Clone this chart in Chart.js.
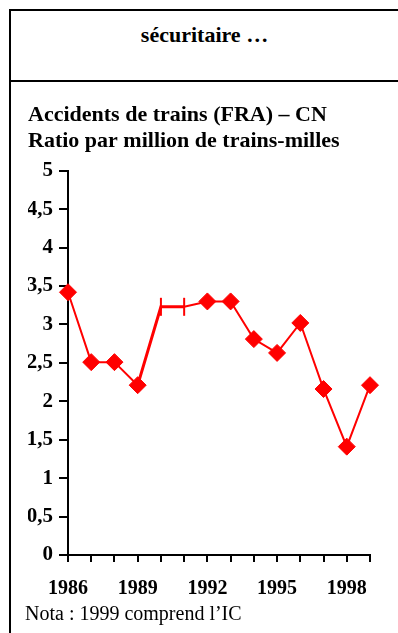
<!DOCTYPE html>
<html>
<head>
<meta charset="utf-8">
<script src="https://cdn.jsdelivr.net/npm/chart.js@4/dist/chart.umd.min.js"></script>
<style>
  html, body { margin: 0; padding: 0; background: #fff; }
  body { width: 398px; height: 633px; position: relative; overflow: hidden; font-family: 'Liberation Serif', 'Times New Roman', serif; }
  .frame { position: absolute; left: 9px; top: 9px; width: 400px; height: 640px; border-left: 2px solid #000; border-top: 2px solid #000; }
  .sep { position: absolute; left: 9px; top: 80px; width: 400px; border-top: 2px solid #000; }
  .header { position: absolute; left: 11px; right: 0; top: 22px; text-align: center; font-weight: bold; font-size: 22px; line-height: 26px; }
  .note { position: absolute; left: 25px; top: 601px; font-size: 20px; line-height: 24px; }
  .wrap { position: absolute; left: 12px; top: 84px; width: 386px; height: 526px; }
</style>
</head>
<body>
<div class="frame"></div>
<div class="sep"></div>
<div class="header">sécuritaire …</div>
<div class="wrap"><canvas id="chart"></canvas></div>
<div class="note">Nota : 1999 comprend l’IC</div>
<script>
const years = ['1986', '1987', '1988', '1989', '1990', '1991', '1992', '1993', '1994', '1995', '1996', '1997', '1998', '1999'];
const ratio = [3.42, 2.51, 2.51, 2.21, 3.23, 3.23, 3.30, 3.30, 2.81, 2.63, 3.02, 2.16, 1.41, 2.21];
const dashYears = ['1990', '1991'];

const serif = "'Liberation Serif', 'Times New Roman', serif";
const red = '#ff0000';

// 1990 et 1991 : petit trait vertical au lieu du losange
const isDash = ctx => dashYears.includes(years[ctx.dataIndex]);

new Chart(document.getElementById('chart'), {
    type: 'line',
    data: {
        labels: years,
        datasets: [{
            data: ratio,
            borderColor: red,
            backgroundColor: red,
            borderWidth: 2,
            tension: 0,
            clip: false,
            pointStyle: ctx => isDash(ctx) ? 'line' : 'rectRot',
            pointRotation: ctx => isDash(ctx) ? 90 : 0,
            pointRadius: ctx => isDash(ctx) ? 9 : 8.5,
            pointBorderWidth: ctx => isDash(ctx) ? 2 : 1,
            pointBorderColor: red,
            pointBackgroundColor: red,
            segment: {
                borderWidth: ctx => (ctx.p0DataIndex === 3 || ctx.p0DataIndex === 4) ? 3 : 2
            }
        }]
    },
    options: {
        responsive: true,
        maintainAspectRatio: false,
        animation: false,
        layout: { padding: { left: 16, right: 28, top: 0, bottom: 0 } },
        plugins: {
            legend: { display: false },
            tooltip: { enabled: false },
            title: {
                display: true,
                text: 'Accidents de trains (FRA) – CN',
                align: 'start',
                color: '#000',
                font: { family: serif, size: 22, weight: 'bold', lineHeight: 1.2 },
                padding: { top: 18, bottom: 0 }
            },
            subtitle: {
                display: true,
                text: 'Ratio par million de trains-milles',
                align: 'start',
                color: '#000',
                font: { family: serif, size: 22, weight: 'bold', lineHeight: 1.2 },
                padding: { top: 0, bottom: 16 }
            }
        },
        scales: {
            x: {
                offset: false,
                grid: { display: true, drawOnChartArea: false, color: '#000', lineWidth: 2, tickLength: 7 },
                border: { color: '#000', width: 2 },
                ticks: {
                    autoSkip: false,
                    maxRotation: 0,
                    padding: 15,
                    color: '#000',
                    font: { family: serif, size: 20, weight: 'bold' },
                    callback: (v, i) => i % 3 === 0 ? years[i] : ''
                },
                afterFit: scale => { scale.height = 55; }
            },
            y: {
                min: 0,
                max: 5,
                grid: { display: true, drawOnChartArea: false, color: '#000', lineWidth: 2, tickLength: 9 },
                border: { color: '#000', width: 2 },
                ticks: {
                    stepSize: 0.5,
                    padding: 6,
                    color: '#000',
                    font: { family: serif, size: 21, weight: 'bold' },
                    callback: v => String(v).replace('.', ',')
                },
                afterFit: scale => { scale.width = 40; }
            }
        }
    }
});
</script>
</body>
</html>
